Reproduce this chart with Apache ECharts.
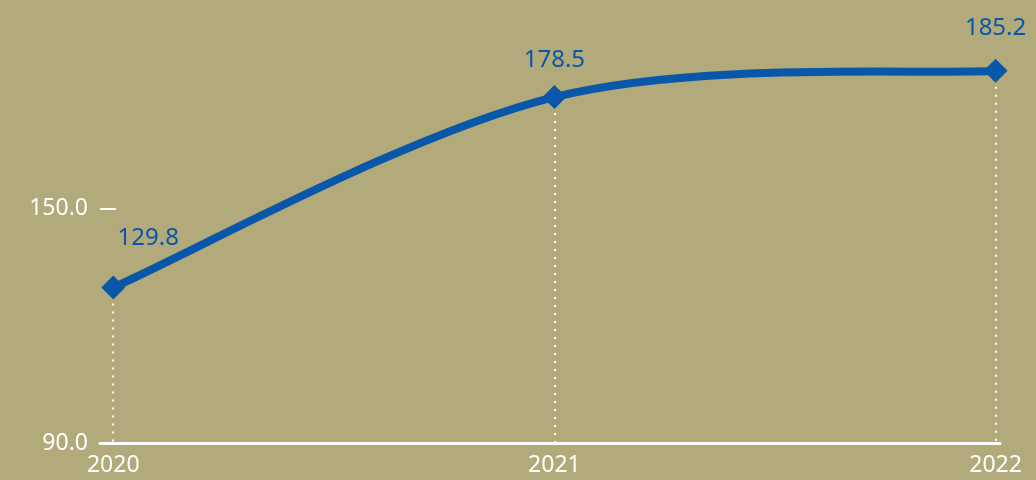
<!DOCTYPE html>
<html>
<head>
<meta charset="utf-8">
<script src="https://cdn.jsdelivr.net/npm/echarts@6/dist/echarts.min.js"></script>
<style>
html,body{margin:0;padding:0;background:#b2aa7b;}
#c{width:1036px;height:480px;}
</style>
</head>
<body>
<div id="c"></div>
<script>
const years = [2020, 2021, 2022];
const values = [129.8, 178.5, 185.2];
const yTicks = [90, 150];

const FONT = 'Noto Sans';
const BLUE = '#0857a8';
const labelOffsets = [[35, -12], [0, 0], [0, -6]];

const points = years.map((y, i) => [y, values[i]]);

function renderSegment(params, api) {
  const i = params.dataIndex;
  const n = points.length;
  if (i >= n - 1) return null;
  const P = j => api.coord(points[Math.max(0, Math.min(n - 1, j))]);
  const p0 = P(i - 1), p1 = P(i), p2 = P(i + 1), p3 = P(i + 2);
  // Catmull-Rom (cardinal, tension 0) segment
  const cp1 = [p1[0] + (p2[0] - p0[0]) / 6, p1[1] + (p2[1] - p0[1]) / 6];
  const cp2 = [p2[0] - (p3[0] - p1[0]) / 6, p2[1] - (p3[1] - p1[1]) / 6];
  return {
    type: 'bezierCurve',
    shape: { x1: p1[0], y1: p1[1], x2: p2[0], y2: p2[1], cpx1: cp1[0], cpy1: cp1[1], cpx2: cp2[0], cpy2: cp2[1] },
    style: { stroke: BLUE, lineWidth: 8, fill: null, lineCap: 'round' }
  };
}

const chart = echarts.init(document.getElementById('c'));
chart.setOption({
  backgroundColor: '#b2aa7b',
  animation: false,
  grid: { left: 100, right: 36, top: 13, bottom: 37 },
  xAxis: {
    type: 'value',
    min: 2019.97,
    max: 2022.01,
    splitLine: { show: false },
    axisLine: { show: true, lineStyle: { color: '#ffffff', width: 3 } },
    axisTick: { show: false },
    axisLabel: {
      customValues: years,
      formatter: v => String(Math.round(v)),
      color: '#ffffff',
      fontFamily: FONT,
      fontSize: 23,
      margin: 11
    }
  },
  yAxis: {
    type: 'value',
    min: 90,
    max: 200,
    splitLine: { show: false },
    axisLine: { show: false },
    axisTick: { show: true, inside: true, length: 16, customValues: yTicks, lineStyle: { color: '#ffffff', width: 2 } },
    axisLabel: {
      customValues: yTicks,
      formatter: v => v.toFixed(1),
      color: '#ffffff',
      fontFamily: FONT,
      fontSize: 23,
      margin: 12
    }
  },
  series: [{
    type: 'custom',
    data: points,
    encode: { x: 0, y: 1 },
    clip: false,
    z: 3,
    renderItem: renderSegment
  }, {
    type: 'scatter',
    data: points.map((p, i) => ({ value: p, label: { offset: labelOffsets[i] } })),
    symbol: 'diamond',
    symbolSize: 24,
    itemStyle: { color: BLUE, opacity: 1 },
    z: 4,
    label: {
      show: true,
      position: 'top',
      distance: 13,
      color: BLUE,
      fontFamily: FONT,
      fontSize: 24,
      formatter: p => p.value[1].toFixed(1)
    },
    markLine: {
      silent: true,
      symbol: 'none',
      z: 1,
      label: { show: false },
      lineStyle: { color: '#ffffff', width: 2, type: [2, 6] },
      data: points.map(p => [{ coord: p }, { coord: [p[0], 90] }])
    }
  }]
});
</script>
</body>
</html>
